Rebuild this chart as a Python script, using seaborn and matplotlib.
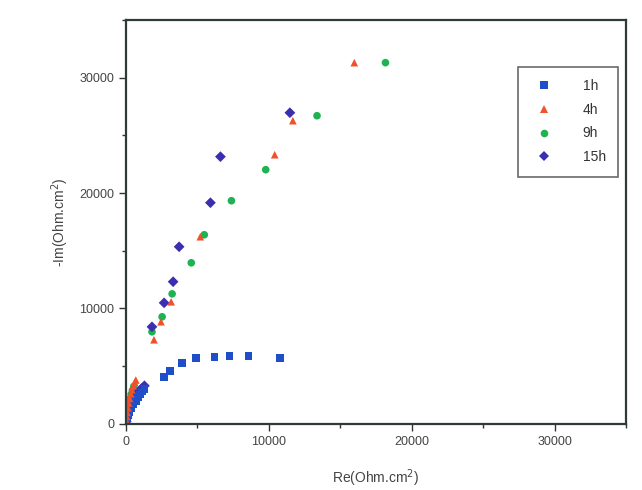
import pandas as pd
import numpy as np
import matplotlib
matplotlib.use("Agg")
import matplotlib.pyplot as plt
import seaborn as sns
from matplotlib.ticker import MultipleLocator

# Nyquist data (Ohm.cm2)
re_1h = [30, 80, 150, 250, 400, 550, 700, 850, 1000, 1150, 1300,
         2680, 3100, 3940, 4930, 6200, 7250, 8590, 10770]
im_1h = [200, 450, 750, 1050, 1400, 1700, 2000, 2300, 2550, 2800, 3000,
         4080, 4600, 5290, 5720, 5810, 5900, 5900, 5720]

re_4h = [20, 50, 90, 140, 200, 270, 350, 430, 520, 620, 700,
         1970, 2460, 3170, 5210, 10420, 11690, 15990]
im_4h = [300, 650, 1000, 1400, 1800, 2200, 2600, 2950, 3300, 3600, 3800,
         7290, 8850, 10580, 16220, 23330, 26280, 31310]

re_9h = [20, 50, 90, 140, 200, 280, 370, 460, 560,
         1830, 2540, 3240, 4580, 5490, 7390, 9790, 13380, 18170]
im_9h = [250, 600, 950, 1350, 1750, 2150, 2550, 2900, 3250,
         7980, 9280, 11270, 13960, 16390, 19340, 22030, 26710, 31310]

re_15h = [30, 80, 140, 220, 320, 450, 600, 750, 900, 1100, 1300,
          1830, 2680, 3310, 3730, 5920, 6620, 11480]
im_15h = [200, 500, 800, 1150, 1500, 1850, 2200, 2500, 2800, 3050, 3300,
          8410, 10490, 12320, 15350, 19170, 23160, 26970]

labels = ["1h", "4h", "9h", "15h"]
colors = {"1h": "#1f4fc8", "4h": "#f0502c", "9h": "#1fb253", "15h": "#3a2fb0"}
marks = {"1h": "s", "4h": "^", "9h": "o", "15h": "D"}

# drawing order: red ends up on top near the origin like in the original
df = pd.concat([
    pd.DataFrame({"re": re_9h, "im": im_9h, "time": "9h"}),
    pd.DataFrame({"re": re_15h, "im": im_15h, "time": "15h"}),
    pd.DataFrame({"re": re_1h, "im": im_1h, "time": "1h"}),
    pd.DataFrame({"re": re_4h, "im": im_4h, "time": "4h"}),
])

sns.set_style("ticks")
plt.rcParams['font.family'] = ['Liberation Sans', 'DejaVu Sans']

fig = plt.figure(figsize=(6.42, 4.90), dpi=100)
ax = fig.add_axes([0.196, 0.135, 0.779, 0.824])

sns.scatterplot(data=df, x="re", y="im", hue="time", style="time",
                hue_order=labels, style_order=labels,
                palette=colors, markers=marks, s=30, linewidth=0,
                ax=ax)

ax.set_xlim(0, 35000)
ax.set_ylim(0, 35000)
ax.xaxis.set_major_locator(MultipleLocator(10000))
ax.xaxis.set_minor_locator(MultipleLocator(5000))
ax.yaxis.set_major_locator(MultipleLocator(10000))
ax.yaxis.set_minor_locator(MultipleLocator(5000))
ax.tick_params(which="both", direction="out", colors="#333333",
               labelcolor="#444444", labelsize=9)
ax.tick_params(which="major", length=5, width=1)
ax.tick_params(which="minor", length=3, width=1)
for sp in ax.spines.values():
    sp.set_visible(True)
    sp.set_color("#2f3b3b")
    sp.set_linewidth(1.6)

ax.set_xlabel("Re(Ohm.cm$^2$)", fontsize=10, color="#444444", labelpad=14)
ax.set_ylabel("-Im(Ohm.cm$^2$)", fontsize=10, color="#444444", labelpad=6)

leg = ax.legend(title=None, loc="upper right", bbox_to_anchor=(0.985, 0.885),
                borderaxespad=0, frameon=True, fancybox=False, fontsize=10,
                markerscale=1.0, handletextpad=1.8, borderpad=0.9,
                labelspacing=0.7)
leg.get_frame().set_edgecolor("#444444")
leg.get_frame().set_linewidth(1.2)
for t in leg.get_texts():
    t.set_color("#333333")

fig.savefig("out.png", dpi=100)
